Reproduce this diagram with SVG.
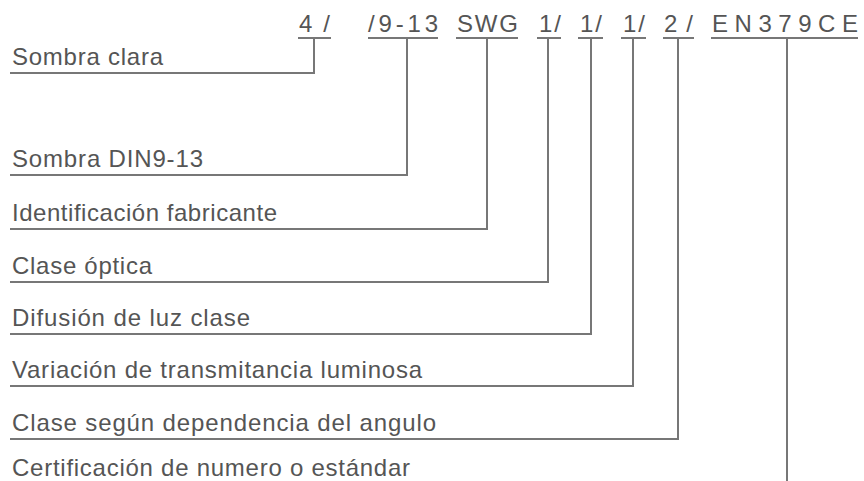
<svg xmlns="http://www.w3.org/2000/svg" width="864" height="481" viewBox="0 0 864 481">
<style>
text{font-family:"Liberation Sans",Arial,sans-serif;font-size:24px;fill:#555}
.ln{fill:none;stroke:#777;stroke-width:2;stroke-linecap:butt;stroke-linejoin:miter}
</style>
<rect width="864" height="481" fill="#fff"/>
<g id="code">
<text x="299" y="32" textLength="31" lengthAdjust="spacing">4/</text>
<text x="368" y="32" textLength="70" lengthAdjust="spacing">/9-13</text>
<text x="457" y="32" textLength="61" lengthAdjust="spacing">SWG</text>
<text x="539" y="32" textLength="22" lengthAdjust="spacing">1/</text>
<text x="580" y="32" textLength="22" lengthAdjust="spacing">1/</text>
<text x="623" y="32" textLength="22" lengthAdjust="spacing">1/</text>
<text x="664" y="32" textLength="29" lengthAdjust="spacing">2/</text>
<text x="712" y="32" textLength="146" lengthAdjust="spacing">EN379CE</text>
<path class="ln" d="M298 38H331M368 38H438M456 38H518M537 38H561M578 38H603M621 38H646M663 38H694M711 38H858"/>
</g>
<g id="n1"><text x="12" y="65" textLength="151" lengthAdjust="spacing">Sombra clara</text></g>
<g id="n2"><text x="12" y="167" textLength="191" lengthAdjust="spacing">Sombra DIN9-13</text></g>
<g id="n3"><text x="12" y="221" textLength="265" lengthAdjust="spacing">Identificación fabricante</text></g>
<g id="n4"><text x="12" y="274" textLength="140" lengthAdjust="spacing">Clase óptica</text></g>
<g id="n5"><text x="12" y="326" textLength="238" lengthAdjust="spacing">Difusión de luz clase</text></g>
<g id="n6"><text x="12" y="378" textLength="410" lengthAdjust="spacing">Variación de transmitancia luminosa</text></g>
<g id="n7"><text x="12" y="431" textLength="424" lengthAdjust="spacing">Clase según dependencia del angulo</text></g>
<g id="n8"><text x="12" y="476" textLength="398" lengthAdjust="spacing">Certificación de numero o estándar</text></g>
<g id="connectors">
<path class="ln" d="M314 38V73H10"/>
<path class="ln" d="M407 38V175H10"/>
<path class="ln" d="M487 38V229H10"/>
<path class="ln" d="M548 38V282H10"/>
<path class="ln" d="M591 38V334H10"/>
<path class="ln" d="M633 38V386H10"/>
<path class="ln" d="M678 38V439H10"/>
<path class="ln" d="M787 38V481"/>
</g>
</svg>
